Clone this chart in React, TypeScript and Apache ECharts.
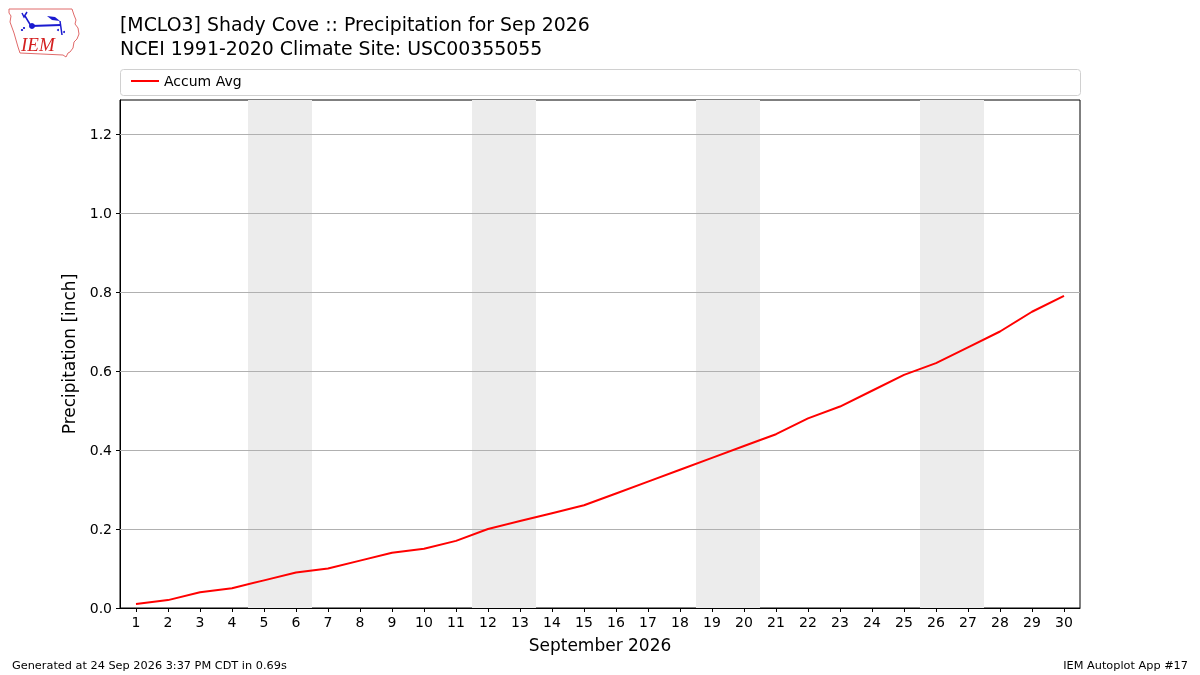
import { useEffect, useRef } from 'react';
import * as echarts from 'echarts';

const days = Array.from({ length: 30 }, (_, i) => i + 1);
// accumulated average precipitation (inch)
const accumAvg = [
  0.01, 0.02, 0.04, 0.05, 0.07, 0.09, 0.1, 0.12, 0.14, 0.15,
  0.17, 0.2, 0.22, 0.24, 0.26, 0.29, 0.32, 0.35, 0.38, 0.41,
  0.44, 0.48, 0.51, 0.55, 0.59, 0.62, 0.66, 0.7, 0.75, 0.79,
];
// saturdays of Sep 2026, shaded with the sunday after them
const weekendStarts = [5, 12, 19, 26];
const yTicks = [0, 0.2, 0.4, 0.6, 0.8, 1.0, 1.2];

const FONT = '"DejaVu Sans", sans-serif';
const LOGO_BLUE = '#1a1ad0';

const iowaOutline = [
  [9, 9], [72, 9], [74, 15], [76, 20], [75, 24], [78, 28], [79, 34], [77, 39],
  [74, 42], [73, 48], [70, 52], [68, 53], [66, 57], [63, 55], [20, 53], [18, 47],
  [16, 40], [14, 33], [10, 22], [11, 16], [9, 13],
];

const App = () => {
  const divRef = useRef<HTMLDivElement | null>(null);

  useEffect(() => {
    if (!divRef.current) return;
    const chart = echarts.init(divRef.current, null, { renderer: 'svg' });

    chart.setOption({
      animation: false,
      textStyle: { fontFamily: FONT },
      title: {
        text: '[MCLO3] Shady Cove :: Precipitation for Sep 2026\nNCEI 1991-2020 Climate Site: USC00355055',
        left: 120,
        top: 12,
        padding: 0,
        textStyle: { fontFamily: FONT, fontSize: 18.9, fontWeight: 'normal', color: '#000', lineHeight: 24 },
      },
      legend: {
        left: 126,
        top: 69,
        icon: 'rect',
        itemWidth: 28,
        itemHeight: 2,
        itemGap: 10,
        textStyle: { fontFamily: FONT, fontSize: 14, color: '#000' },
        data: ['Accum Avg'],
      },
      grid: { left: 120, right: 120, top: 100, bottom: 67, show: true, borderColor: '#000', borderWidth: 1 },
      xAxis: {
        type: 'value',
        min: 0.5,
        max: 30.5,
        name: 'September 2026',
        nameLocation: 'middle',
        nameGap: 28,
        nameTextStyle: { fontFamily: FONT, fontSize: 17, color: '#000' },
        axisLine: { lineStyle: { color: '#000' } },
        axisTick: { customValues: days, length: 4, lineStyle: { color: '#000' } },
        axisLabel: { customValues: days, fontFamily: FONT, fontSize: 14, color: '#000', margin: 7 },
        splitLine: { show: false },
      },
      yAxis: {
        type: 'value',
        min: 0,
        max: 1.286,
        name: 'Precipitation [inch]',
        nameLocation: 'middle',
        nameGap: 43,
        nameTextStyle: { fontFamily: FONT, fontSize: 17, color: '#000' },
        axisLine: { show: true, lineStyle: { color: '#000' } },
        axisTick: { customValues: yTicks, length: 4, lineStyle: { color: '#000' } },
        axisLabel: {
          customValues: yTicks,
          fontFamily: FONT,
          fontSize: 14,
          color: '#000',
          margin: 8,
          formatter: (v: number) => v.toFixed(1),
        },
        splitLine: { show: false },
      },
      graphic: [
        {
          type: 'rect',
          shape: { x: 120.5, y: 69.5, width: 960, height: 26, r: 3 },
          style: { fill: '#fff', stroke: '#d0d0d0', lineWidth: 1 },
          z: -1,
        },
        // IEM logo
        {
          type: 'polygon',
          shape: { points: iowaOutline },
          style: { fill: '#fff', stroke: '#e06a6a', lineWidth: 1 },
        },
        {
          type: 'text',
          x: 21,
          y: 35,
          style: { text: 'IEM', fill: '#d42020', font: 'italic 19px "Liberation Serif", serif' },
        },
        {
          type: 'polyline',
          shape: { points: [[22, 13], [24, 17], [27, 12]] },
          style: { stroke: LOGO_BLUE, lineWidth: 1.5, fill: 'none' },
        },
        {
          type: 'line',
          shape: { x1: 25, y1: 16, x2: 31, y2: 26 },
          style: { stroke: LOGO_BLUE, lineWidth: 1.5 },
        },
        {
          type: 'line',
          shape: { x1: 31, y1: 26, x2: 61, y2: 25 },
          style: { stroke: LOGO_BLUE, lineWidth: 2 },
        },
        {
          type: 'circle',
          shape: { cx: 32, cy: 26, r: 3 },
          style: { fill: LOGO_BLUE },
        },
        {
          type: 'polygon',
          shape: { points: [[47, 16], [55, 17], [60, 21], [52, 20]] },
          style: { fill: LOGO_BLUE },
        },
        {
          type: 'line',
          shape: { x1: 60, y1: 21, x2: 62, y2: 35 },
          style: { stroke: LOGO_BLUE, lineWidth: 1.5 },
        },
        {
          type: 'circle',
          shape: { cx: 58, cy: 30, r: 1 },
          style: { fill: LOGO_BLUE },
        },
        {
          type: 'circle',
          shape: { cx: 64, cy: 32, r: 1 },
          style: { fill: LOGO_BLUE },
        },
        {
          type: 'circle',
          shape: { cx: 24, cy: 28, r: 1.1 },
          style: { fill: LOGO_BLUE },
        },
        {
          type: 'circle',
          shape: { cx: 22, cy: 30, r: 1.1 },
          style: { fill: LOGO_BLUE },
        },
        {
          type: 'text',
          x: 12,
          y: 665,
          style: {
            text: 'Generated at 24 Sep 2026 3:37 PM CDT in 0.69s',
            fill: '#000',
            font: '11.3px "DejaVu Sans", sans-serif',
            verticalAlign: 'middle',
          },
        },
        {
          type: 'text',
          x: 1188,
          y: 665,
          style: {
            text: 'IEM Autoplot App #17',
            fill: '#000',
            font: '11.3px "DejaVu Sans", sans-serif',
            align: 'right',
            verticalAlign: 'middle',
          },
        },
      ],
      series: [
        {
          name: 'Grid',
          type: 'line',
          data: [],
          silent: true,
          markLine: {
            silent: true,
            symbol: 'none',
            label: { show: false },
            lineStyle: { color: '#b0b0b0', type: 'solid', width: 1 },
            data: yTicks.filter((v) => v > 0).map((v) => ({ yAxis: v })),
          },
          markArea: {
            silent: true,
            itemStyle: { color: '#ececec' },
            data: weekendStarts.map((d) => [{ xAxis: d - 0.5 }, { xAxis: d + 1.5 }]),
          },
        },
        {
          name: 'Accum Avg',
          type: 'line',
          data: days.map((d, i) => [d, accumAvg[i]]),
          showSymbol: false,
          lineStyle: { color: '#ff0000', width: 2 },
          itemStyle: { color: '#ff0000' },
          z: 5,
        },
      ],
    });

    return () => chart.dispose();
  }, []);

  return <div ref={divRef} style={{ position: 'fixed', left: 0, top: 0, width: 1200, height: 675 }} />;
};

export default App;
